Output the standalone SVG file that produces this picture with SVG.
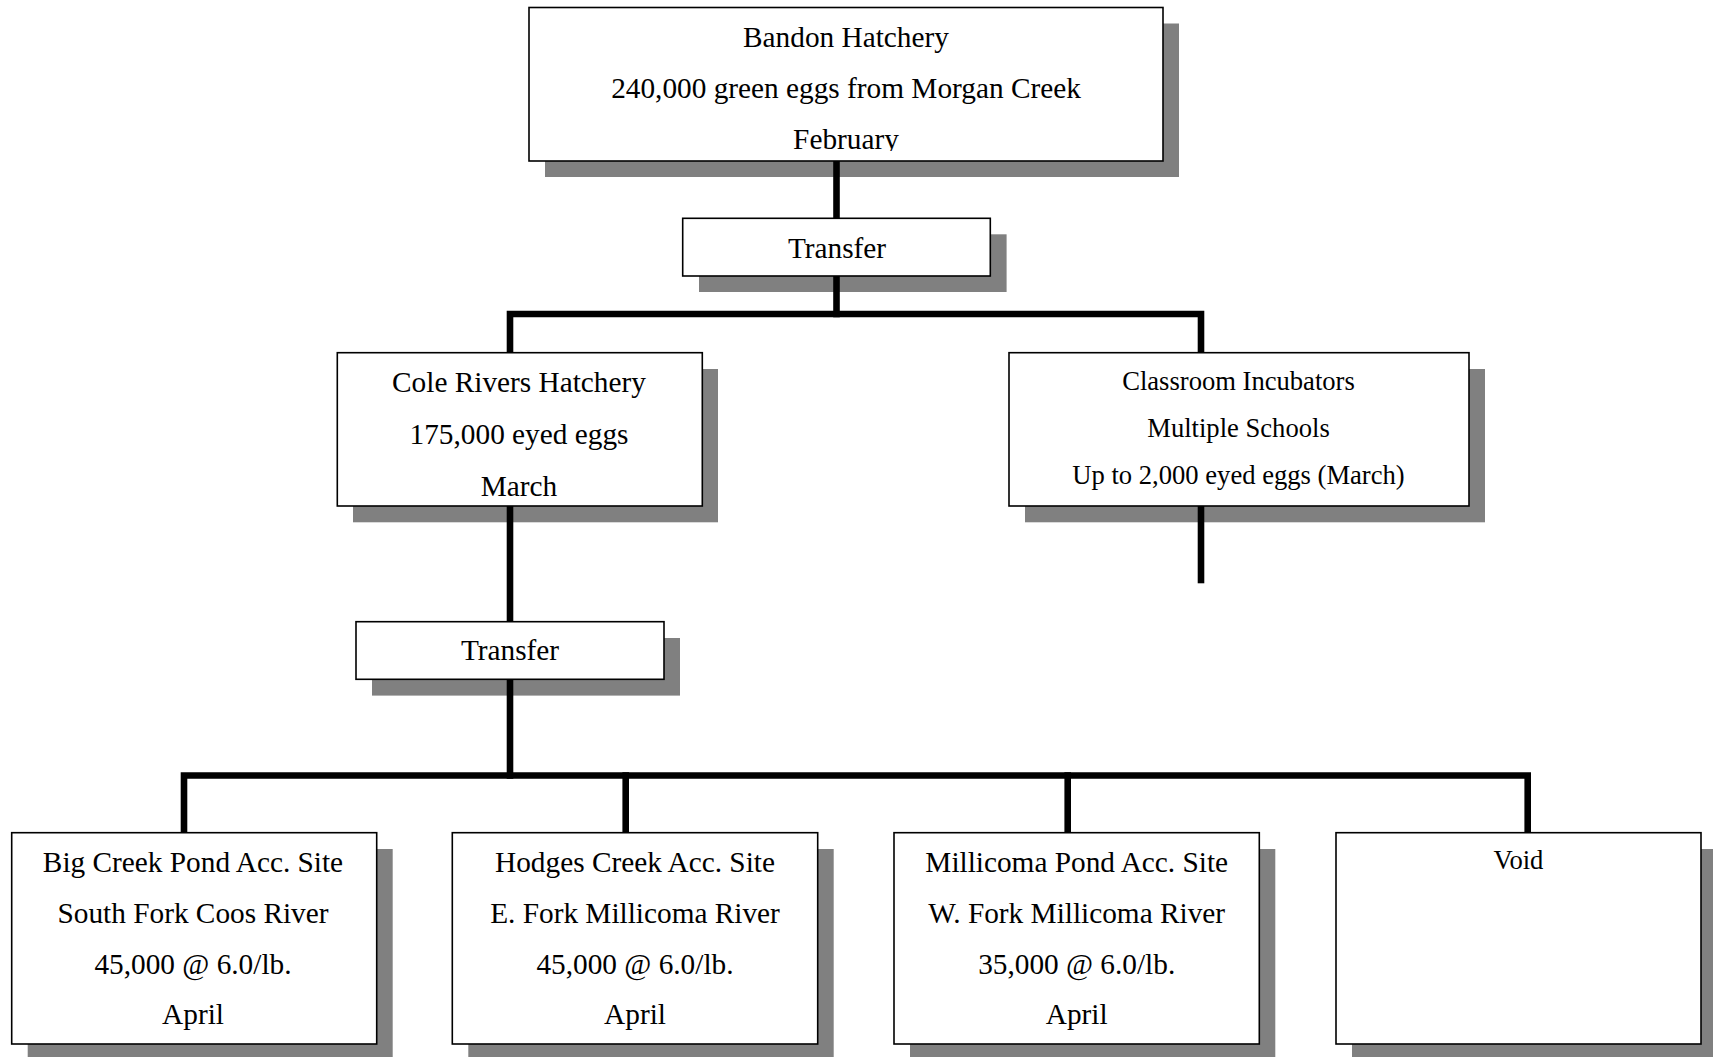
<svg xmlns="http://www.w3.org/2000/svg" width="1713" height="1057" viewBox="0 0 1713 1057">
<style>
.shadow{fill:#808080;stroke:none}
.box{fill:#fff;stroke:#000;stroke-width:1.6}
.t{font-family:"Liberation Serif","Times New Roman",serif;font-size:29.3px;fill:#000;text-anchor:middle}
.s{font-size:26.6px}
.conn{fill:none;stroke:#000;stroke-width:6.6;stroke-linecap:square;stroke-linejoin:miter}
</style>
<defs>
<clipPath id="clipBandon"><rect x="529" y="7" width="634" height="144"/></clipPath>
</defs>
<rect width="1713" height="1057" fill="#fff"/>

<g id="shadows">
<rect class="shadow" x="545" y="23.5" width="634" height="153.5"/>
<rect class="shadow" x="699" y="234.3" width="307.6" height="57.7"/>
<rect class="shadow" x="353" y="369" width="365" height="153.3"/>
<rect class="shadow" x="1025" y="369" width="460" height="153.3"/>
<rect class="shadow" x="372" y="638" width="308" height="57.6"/>
<rect class="shadow" x="27.7" y="849" width="365" height="211.3"/>
<rect class="shadow" x="468.3" y="849" width="365.4" height="211.3"/>
<rect class="shadow" x="910" y="849" width="365.3" height="211.3"/>
<rect class="shadow" x="1352" y="849" width="365" height="211.3"/>
</g>

<g id="connectors">
<line class="conn" x1="836.5" y1="161" x2="836.5" y2="218"/>
<polyline class="conn" points="510,352 510,314 1201,314 1201,352"/>
<line class="conn" x1="836.5" y1="276" x2="836.5" y2="314"/>
<line class="conn" x1="510" y1="506" x2="510" y2="621"/>
<line class="conn" x1="1201" y1="506" x2="1201" y2="580"/>
<line class="conn" x1="510" y1="679" x2="510" y2="775.5"/>
<polyline class="conn" points="184,832 184,775.5 1527.7,775.5 1527.7,832"/>
<line class="conn" x1="625.7" y1="775.5" x2="625.7" y2="832"/>
<line class="conn" x1="1067.7" y1="775.5" x2="1067.7" y2="832"/>
</g>

<g id="bandon">
<rect class="box" x="529" y="7.5" width="634" height="153.5"/>
<g clip-path="url(#clipBandon)">
<text class="t" x="846" y="47">Bandon Hatchery</text>
<text class="t" x="846" y="98">240,000 green eggs from Morgan Creek</text>
<text class="t" x="846" y="148.5">February</text>
</g>
</g>

<g id="transfer1">
<rect class="box" x="682.7" y="218.3" width="307.6" height="57.7"/>
<text class="t" x="837" y="257.5">Transfer</text>
</g>

<g id="cole">
<rect class="box" x="337.3" y="352.7" width="365" height="153.3"/>
<text class="t" x="519" y="391.5">Cole Rivers Hatchery</text>
<text class="t" x="519" y="443.5">175,000 eyed eggs</text>
<text class="t" x="519" y="495.7">March</text>
</g>

<g id="classroom">
<rect class="box" x="1009" y="352.7" width="460" height="153.3"/>
<text class="t s" x="1238.5" y="390">Classroom Incubators</text>
<text class="t s" x="1238.5" y="437.3">Multiple Schools</text>
<text class="t s" x="1238.5" y="484">Up to 2,000 eyed eggs (March)</text>
</g>

<g id="transfer2">
<rect class="box" x="356" y="621.7" width="308" height="57.6"/>
<text class="t" x="510" y="660.2">Transfer</text>
</g>

<g id="bigcreek">
<rect class="box" x="11.7" y="832.7" width="365" height="211.3"/>
<text class="t" x="193" y="871.8">Big Creek Pond Acc. Site</text>
<text class="t" x="193" y="923">South Fork Coos River</text>
<text class="t" x="193" y="974">45,000 @ 6.0/lb.</text>
<text class="t" x="193" y="1024">April</text>
</g>

<g id="hodges">
<rect class="box" x="452.3" y="832.7" width="365.4" height="211.3"/>
<text class="t" x="635" y="871.8">Hodges Creek Acc. Site</text>
<text class="t" x="635" y="923">E. Fork Millicoma River</text>
<text class="t" x="635" y="974">45,000 @ 6.0/lb.</text>
<text class="t" x="635" y="1024">April</text>
</g>

<g id="millicoma">
<rect class="box" x="894" y="832.7" width="365.3" height="211.3"/>
<text class="t" x="1076.7" y="871.8">Millicoma Pond Acc. Site</text>
<text class="t" x="1076.7" y="923">W. Fork Millicoma River</text>
<text class="t" x="1076.7" y="974">35,000 @ 6.0/lb.</text>
<text class="t" x="1076.7" y="1024">April</text>
</g>

<g id="void">
<rect class="box" x="1336" y="832.7" width="365" height="211.3"/>
<text class="t s" x="1518.5" y="869">Void</text>
</g>
</svg>
